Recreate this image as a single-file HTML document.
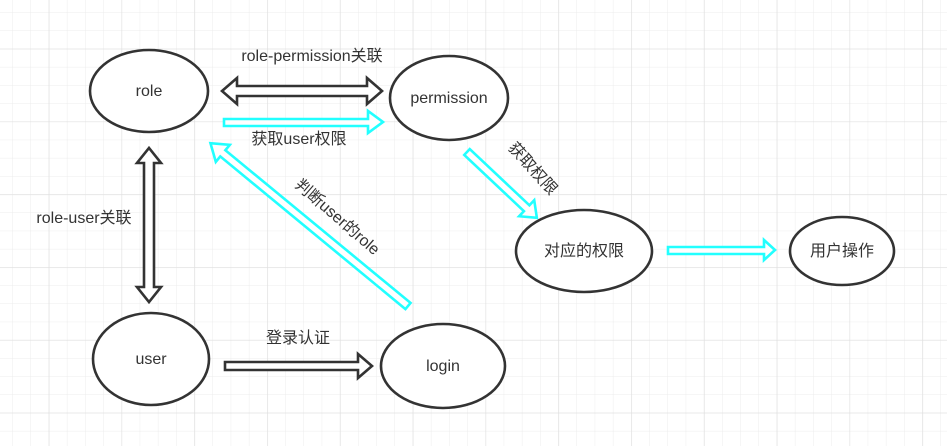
<!DOCTYPE html>
<html><head><meta charset="utf-8"><style>
html,body{margin:0;padding:0;background:#fff}
svg{display:block}
text{font-family:"Liberation Sans","Noto Sans CJK SC",sans-serif;fill:#333;font-size:16px}
</style></head><body>
<svg width="947" height="446" viewBox="0 0 947 446" xmlns="http://www.w3.org/2000/svg">
<defs>
<pattern id="g" x="12.3" y="12.3" width="18.2" height="18.2" patternUnits="userSpaceOnUse">
<path d="M0 0H18.2M0 0V18.2" stroke="#ececec" stroke-width="1" fill="none"/>
</pattern>
<pattern id="G" x="48.7" y="48.7" width="72.8" height="72.8" patternUnits="userSpaceOnUse">
<path d="M0 0H72.8M0 0V72.8" stroke="#e0e0e0" stroke-width="1.3" fill="none"/>
</pattern>
</defs>
<rect width="947" height="446" fill="url(#g)"/>
<rect width="947" height="446" fill="url(#G)"/>

<g fill="#fff" stroke-width="2.6" stroke-linejoin="miter">
<polygon stroke="#333" points="237,86 367,86 367,78 382,91 367,104 367,96 237,96 237,104 222,91 237,78"/>
<polygon stroke="#2ff" points="224,119 368,119 368,111 383,122 368,133 368,126 224,126"/>
<polygon stroke="#333" points="144,163 144,287 137,287 149,302 161,287 154,287 154,163 161,163 149,148 137,163"/>
<polygon stroke="#333" points="225,362 358,362 358,354 372,366 358,378 358,370 225,370"/>
<g transform="translate(408,306) rotate(219.5)">
<polygon stroke="#2ff" points="0,-4 240,-4 240,-11 256,0 240,11 240,4 0,4"/>
</g>
<g transform="translate(467,152) rotate(43.3)">
<polygon stroke="#2ff" points="0,-4 82,-4 82,-11 96,0 82,11 82,4 0,4"/>
</g>
<polygon stroke="#2ff" points="668,247 764,247 764,240 775,250 764,260 764,254 668,254"/>
</g>

<g fill="#fff" stroke="#333" stroke-width="2.6">
<ellipse cx="149" cy="91" rx="59" ry="41"/>
<ellipse cx="449" cy="98" rx="59" ry="42"/>
<ellipse cx="584" cy="251" rx="68" ry="41"/>
<ellipse cx="842" cy="251" rx="52" ry="34"/>
<ellipse cx="151" cy="359" rx="58" ry="46"/>
<ellipse cx="443" cy="366" rx="62" ry="42"/>
</g>

<g text-anchor="middle">
<text x="149" y="96">role</text>
<text x="449" y="103">permission</text>
<text x="584" y="256">对应的权限</text>
<text x="842" y="256">用户操作</text>
<text x="151" y="364">user</text>
<text x="443" y="371">login</text>
<text x="312" y="61">role-permission关联</text>
<text x="299" y="144">获取user权限</text>
<text x="84" y="223">role-user关联</text>
<text x="298" y="343">登录认证</text>
<text transform="translate(334,221) rotate(41)">判断user的role</text>
<text transform="translate(529,172) rotate(48)">获取权限</text>
</g>
</svg>
</body></html>
